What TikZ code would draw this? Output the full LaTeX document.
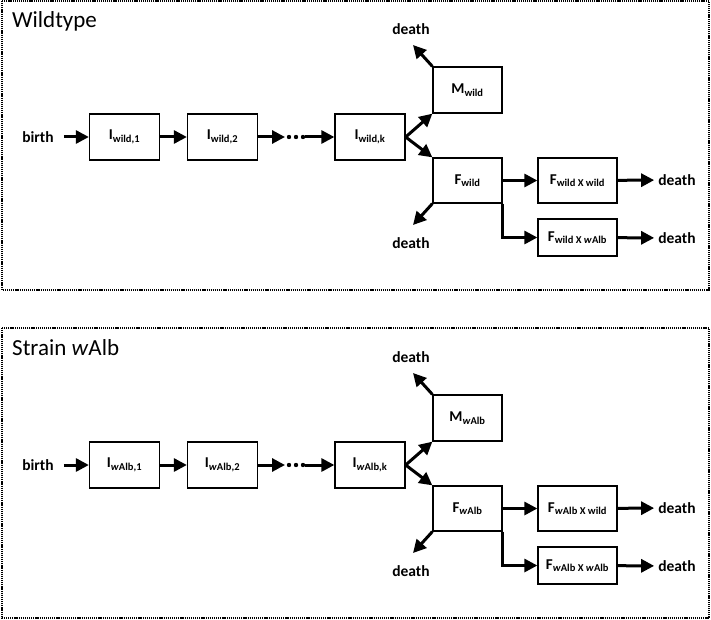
\documentclass[tikz,border=0pt]{standalone}
\usepackage{fontspec}
\setmainfont{Carlito}
\usetikzlibrary{arrows.meta}

\newcommand{\wa}{\textit{w}Alb}

\tikzset{
  box/.style={draw, line width=1.3pt, minimum width=70pt, minimum height=46pt, inner sep=1pt, font=\bfseries\fontsize{15}{17}\selectfont},
  lbl/.style={font=\bfseries\fontsize{15.5}{17}\selectfont, inner sep=4pt},
  flow/.style={line width=3pt, -{Triangle[length=13pt,width=13pt]}},
  panel/.style={line width=1.6pt, dash pattern=on 1.2pt off 0.9pt},
  ttl/.style={font=\fontsize{23}{27}\selectfont, anchor=base west, inner sep=0pt}
}

\begin{document}
\begin{tikzpicture}[x=1pt, y=-1pt]
\useasboundingbox (0,0) rectangle (711,620);

% Wildtype
\draw[panel] (2,1) rectangle (709,290);
\node[ttl] (wttl) at (12,28) {Wildtype};
\node[lbl] (wbirth) at (38,137) {birth};
\node[box] (wi1) at (124.5,137) {I\textsubscript{wild,1}};
\node[box] (wi2) at (222.5,137) {I\textsubscript{wild,2}};
\node[box] (wik) at (370,137) {I\textsubscript{wild,k}};
\node[box, minimum width=69pt] (wm) at (467.5,90) {M\textsubscript{wild}};
\node[box, minimum width=69pt, minimum height=45pt] (wf) at (467.5,180.5) {F\textsubscript{wild}};
\node[box, minimum width=79pt, minimum height=45pt] (wfw) at (577.5,180.5) {F\textsubscript{wild X wild}};
\node[box, minimum width=79pt, minimum height=37pt] (wfa) at (577.5,237.5) {F\textsubscript{wild X \wa}};
\node[lbl] (wdm) at (411,29) {death};
\node[lbl] (wdf) at (411,243) {death};
\node[lbl] (wdfw) at (677,180) {death};
\node[lbl] (wdfa) at (677,238) {death};
\coordinate (wtm) at (413,45);
\coordinate (wtf) at (413,225);
\coordinate (wd1) at (285,137);
\coordinate (wd2) at (305,137);

\draw[flow] ([xshift=6pt]wbirth.east) -- (wi1.west);
\draw[flow] (wi1) -- (wi2);
\draw[flow] (wi2) -- (wd1);
\fill (289,137) circle (2.2pt) (296,137) circle (2.2pt) (303,137) circle (2.2pt);
\draw[flow] (wd2) -- (wik);
\draw[flow] (wik.east) -- (wm.south west);
\draw[flow] (wik.east) -- (wf.north west);
\draw[flow] (wm.north west) -- (wtm);
\draw[flow] (wf.south west) -- (wtf);
\draw[flow] (wf) -- (wfw);
\draw[flow] (wf.south east) |- (wfa);
\draw[flow] (wfw) -- (wdfw);
\draw[flow] (wfa) -- (wdfa);

% Strain wAlb
\begin{scope}[yshift=-328pt]
\draw[panel] (2,0) rectangle (709,290);
\node[ttl] (attl) at (12,27) {Strain \textit{w}Alb};
\node[lbl] (abirth) at (38,137) {birth};
\node[box] (ai1) at (124.5,137) {I\textsubscript{\wa,1}};
\node[box] (ai2) at (222.5,137) {I\textsubscript{\wa,2}};
\node[box] (aik) at (370,137) {I\textsubscript{\wa,k}};
\node[box, minimum width=69pt] (am) at (467.5,90) {M\textsubscript{\wa}};
\node[box, minimum width=69pt, minimum height=45pt] (af) at (467.5,180.5) {F\textsubscript{\wa}};
\node[box, minimum width=79pt, minimum height=45pt] (afw) at (577.5,180.5) {F\textsubscript{\wa{} X wild}};
\node[box, minimum width=79pt, minimum height=37pt] (afa) at (577.5,237.5) {F\textsubscript{\wa{} X \wa}};
\node[lbl] (adm) at (411,29) {death};
\node[lbl] (adf) at (411,243) {death};
\node[lbl] (adfw) at (677,180) {death};
\node[lbl] (adfa) at (677,238) {death};
\coordinate (atm) at (413,45);
\coordinate (atf) at (413,225);
\coordinate (ad1) at (285,137);
\coordinate (ad2) at (305,137);

\draw[flow] ([xshift=6pt]abirth.east) -- (ai1.west);
\draw[flow] (ai1) -- (ai2);
\draw[flow] (ai2) -- (ad1);
\fill (289,137) circle (2.2pt) (296,137) circle (2.2pt) (303,137) circle (2.2pt);
\draw[flow] (ad2) -- (aik);
\draw[flow] (aik.east) -- (am.south west);
\draw[flow] (aik.east) -- (af.north west);
\draw[flow] (am.north west) -- (atm);
\draw[flow] (af.south west) -- (atf);
\draw[flow] (af) -- (afw);
\draw[flow] (af.south east) |- (afa);
\draw[flow] (afw) -- (adfw);
\draw[flow] (afa) -- (adfa);
\end{scope}
\end{tikzpicture}
\end{document}
